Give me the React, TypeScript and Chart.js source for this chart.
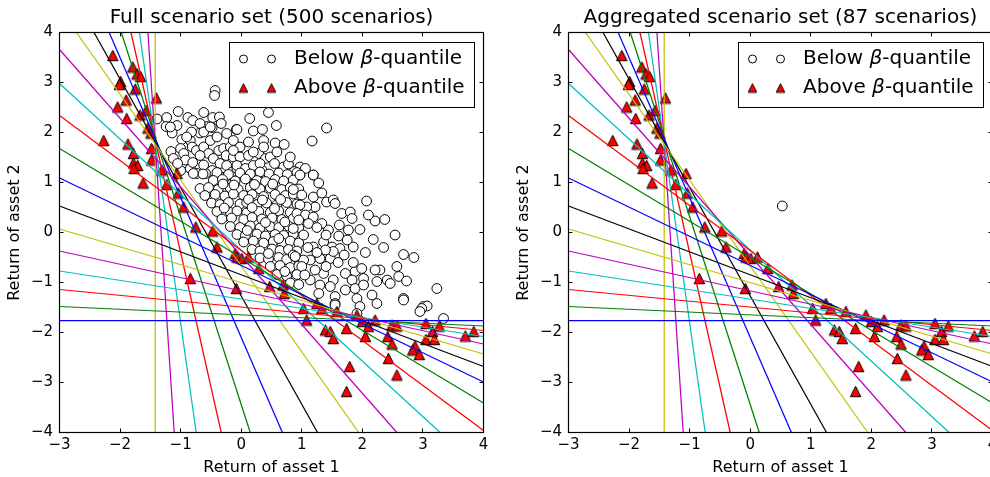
import React, { useEffect, useRef } from 'react';
import { Chart, registerables } from 'chart.js';

Chart.register(...registerables);

const FONT = '"DejaVu Sans", "Liberation Sans", sans-serif';

const xTickValues = [-3, -2, -1, 0, 1, 2, 3, 4];
const yTickValues = [-4, -3, -2, -1, 0, 1, 2, 3, 4];

const panelTitles = ['Full scenario set (500 scenarios)', 'Aggregated scenario set (87 scenarios)'];
const xAxisTitle = 'Return of asset 1';
const yAxisTitle = 'Return of asset 2';
const legendWords = ['Below', 'Above'];

// supporting lines: start / end points where they meet the plot box
const lineStartX = [-3, -3, -3, -3, -3, -3, -3, -3, -3, -3, -3, -3, -2.72, -2.43, -2.18, -1.98, -1.82, -1.68, -1.54, -1.42];
const lineStartY = [-1.76, -1.48, -1.14, -0.77, -0.37, 0.07, 0.53, 1.09, 1.68, 2.34, 2.98, 3.66, 4, 4, 4, 4, 4, 4, 4, 4];
const lineEndX = [4, 4, 4, 4, 4, 4, 4, 4, 4, 4, 3.285, 2.57, 1.94, 1.26, 0.68, 0.149, -0.33, -0.743, -1.106, -1.42];
const lineEndY = [-1.76, -1.87, -1.96, -2.08, -2.23, -2.43, -2.68, -2.99, -3.41, -3.96, -4, -4, -4, -4, -4, -4, -4, -4, -4, -4];
const lineColors = ['#0000ff', '#008000', '#ff0000', '#00bfbf', '#bf00bf', '#bfbf00', '#000000'];

// scenarios above the beta-quantile (same in both panels)
const aboveQuantile = [
  [-2.12, 3.54], [-1.79, 3.31], [-1.72, 3.17], [-1.66, 3.12], [-1.99, 3.02], [-2.01, 2.96], [-1.75, 2.87],
  [-1.40, 2.69], [-1.90, 2.65], [-2.04, 2.51], [-1.57, 2.44], [-1.67, 2.35], [-1.89, 2.28], [-1.54, 2.09],
  [-1.49, 1.99], [-2.27, 1.84], [-1.87, 1.77], [-1.48, 1.68], [-1.78, 1.58], [-1.48, 1.45], [-1.78, 1.39],
  [-1.71, 1.34], [-1.77, 1.28], [-1.31, 1.25], [-1.06, 1.18], [-1.62, 0.99], [-1.23, 0.96], [-1.04, 0.79],
  [-0.95, 0.51], [-0.75, 0.11], [-0.47, 0.03], [-0.40, -0.29], [-0.10, -0.42], [-0.07, -0.49], [0.01, -0.52],
  [0.12, -0.49], [0.29, -0.72], [-0.84, -0.92], [-0.08, -1.12], [0.47, -1.08], [0.71, -1.22], [0.69, -1.05],
  [1.03, -1.52], [1.08, -1.75], [1.39, -1.95], [1.47, -1.98], [1.52, -2.12], [1.74, -1.92], [1.79, -2.68],
  [1.74, -3.18], [2.00, -1.78], [2.05, -2.08], [2.10, -1.88], [2.21, -1.75], [2.42, -2.08], [2.49, -2.23],
  [2.43, -2.52], [2.57, -2.85], [2.49, -1.85], [2.57, -1.87], [2.87, -2.27], [2.83, -2.35], [2.94, -2.44],
  [3.05, -1.82], [3.16, -1.98], [3.05, -2.14], [3.19, -2.14], [3.27, -1.87], [3.70, -2.07], [3.84, -1.98],
  [1.58, -1.58], [1.33, -1.52], [1.25, -1.42], [1.91, -1.65],
];

// scenarios below the beta-quantile, full set
const belowFull = [
  [-0.43, 2.84], [-0.44, 2.74], [-1.04, 2.42], [-1.23, 2.30], [-1.39, 2.27], [-1.24, 2.12], [-1.06, 2.14],
  [-1.14, 1.99], [-1.17, 2.11], [-0.88, 2.30], [-0.80, 2.24], [-0.62, 2.40], [-0.47, 2.30], [-0.36, 2.31],
  [-0.33, 2.18], [-0.08, 2.06], [-0.57, 2.12], [-0.48, 2.10], [-0.68, 1.99], [-0.84, 1.84], [-0.98, 1.86],
  [-1.16, 1.62], [-1.00, 1.68], [-0.95, 1.58], [-0.81, 1.71], [-0.74, 1.64], [-0.62, 1.71], [-0.51, 1.84],
  [-0.40, 1.91], [-0.54, 1.58], [-0.68, 1.54], [-0.37, 1.64], [-0.29, 1.68], [-0.18, 1.71], [-0.25, 1.54],
  [-0.13, 1.51], [-0.07, 1.64], [-0.46, 1.48], [-0.35, 1.38], [-0.24, 1.34], [-0.48, 1.24], [-0.59, 1.18],
  [-0.73, 1.18], [-0.84, 1.28], [-1.00, 1.24], [-1.12, 1.48], [-0.15, 1.21], [-0.07, 1.28], [-0.26, 1.11],
  [-0.37, 1.14], [-0.68, 2.18], [-0.62, 2.01], [-0.51, 2.11], [-0.82, 2.01], [-0.90, 1.91], [-0.24, 1.98],
  [-0.13, 1.84], [-0.02, 1.71], [-0.92, 1.45], [-0.80, 1.40], [-0.62, 1.35], [-1.05, 1.38],
  [0.45, 2.40], [0.14, 2.28], [-0.07, 2.06], [0.20, 2.03], [0.35, 2.06], [0.58, 2.14], [0.37, 1.84],
  [0.56, 1.79], [0.71, 1.76], [1.17, 1.83], [1.41, 2.09], [-0.13, 1.64], [-0.02, 1.51], [0.12, 1.54],
  [0.29, 1.58], [0.40, 1.48], [-0.07, 1.34], [0.07, 1.28], [0.20, 1.34], [0.34, 1.25], [0.70, 1.31],
  [0.78, 1.37], [0.97, 1.31], [1.06, 1.28], [1.19, 1.15], [0.15, 1.15], [0.42, 1.11], [0.59, 1.11],
  [0.73, 1.11], [0.97, 1.15], [0.20, 1.61], [0.37, 1.71], [0.48, 1.51], [0.31, 1.38], [0.59, 1.61],
  [0.81, 1.51], [0.55, 1.38], [0.88, 1.22], [0.12, 1.81],
  [-0.79, 1.18], [-0.63, 1.17], [-0.40, 1.20], [-0.21, 1.16], [-0.02, 1.19], [0.15, 1.17], [0.31, 1.21],
  [0.46, 1.17], [0.62, 1.19], [0.76, 1.16], [0.92, 1.20],
  [-0.46, 1.04], [-0.31, 1.06], [-0.10, 1.03], [0.07, 1.07], [0.26, 1.04], [0.40, 1.02], [0.56, 1.06],
  [0.70, 1.03], [0.86, 1.05],
  [-0.68, 0.88], [-0.54, 0.90], [-0.38, 0.86], [-0.18, 0.89], [-0.05, 0.86], [0.15, 0.90], [0.31, 0.87],
  [0.48, 0.89], [0.67, 0.86], [0.81, 0.90], [0.95, 0.87],
  [-0.60, 0.74], [-0.43, 0.76], [-0.27, 0.73], [-0.13, 0.77], [0.04, 0.74], [0.18, 0.76], [0.37, 0.72],
  [0.56, 0.76], [0.73, 0.74], [0.86, 0.77],
  [-0.49, 0.59], [-0.35, 0.56], [-0.21, 0.60], [-0.02, 0.57], [0.09, 0.60], [0.26, 0.56], [0.42, 0.59],
  [0.59, 0.56], [0.75, 0.60], [0.92, 0.57],
  [-0.40, 0.42], [-0.18, 0.40], [-0.07, 0.43], [0.09, 0.39], [0.29, 0.42], [0.48, 0.40], [0.62, 0.43],
  [0.81, 0.40],
  [-0.32, 0.27], [-0.16, 0.29], [0.04, 0.26], [0.18, 0.30], [0.34, 0.27], [0.51, 0.29], [0.67, 0.26],
  [0.86, 0.28],
  [-0.18, 0.12], [-0.02, 0.10], [0.15, 0.13], [0.31, 0.09], [0.48, 0.12], [0.62, 0.10], [0.78, 0.13],
  [0.95, 0.10],
  [-0.07, -0.04], [0.07, -0.06], [0.26, -0.03], [0.40, -0.07], [0.56, -0.04], [0.70, -0.06], [0.86, -0.03],
  [0.04, -0.19], [0.20, -0.17], [0.37, -0.21], [0.53, -0.18], [0.67, -0.20], [0.81, -0.17], [0.95, -0.21],
  [0.18, -0.34], [0.31, -0.37], [0.51, -0.33], [0.64, -0.36], [0.78, -0.34], [0.92, -0.37],
  [0.31, -0.51], [0.45, -0.53], [0.62, -0.50], [0.75, -0.54], [0.92, -0.51],
  [0.48, -0.68], [0.64, -0.66], [0.81, -0.70], [0.95, -0.67],
  [0.59, -0.84], [0.75, -0.87], [0.92, -0.84], [0.81, -1.01], [0.95, -1.04],
  [-0.30, 0.97], [-0.12, 0.95], [0.22, 0.96], [0.52, 0.97], [0.12, 0.66], [0.35, 0.65], [0.65, 0.66],
  [-0.28, 0.49], [0.18, 0.50], [0.55, 0.48], [0.40, 0.20], [0.72, 0.21], [0.10, 0.04], [0.62, -0.12],
  [0.45, -0.42], [0.86, -0.45], [0.72, -0.78],
  [0.97, 1.15], [1.19, 1.15], [1.28, 0.99], [0.86, 0.86], [1.00, 0.75], [1.19, 0.71], [1.33, 0.79],
  [1.41, 0.61], [1.52, 0.65], [1.55, 0.58], [1.66, 0.38], [1.80, 0.41], [1.83, 0.28], [2.07, 0.63],
  [2.21, 0.23], [2.37, 0.26], [1.96, 0.06], [1.77, 0.05], [1.61, -0.07], [1.44, 0.05], [1.33, 0.18],
  [1.22, 0.51], [1.08, 0.51], [0.97, 0.55], [0.92, 0.38], [1.06, 0.35], [1.19, 0.31], [0.95, 0.25],
  [1.11, 0.18], [0.86, 0.08], [1.03, -0.05], [1.19, -0.29], [1.36, -0.19], [1.50, -0.29], [1.63, -0.32],
  [1.85, -0.29], [2.18, -0.14], [2.54, -0.05], [2.68, -0.44], [2.85, -0.50], [2.57, -0.68], [2.60, -0.88],
  [2.73, -0.97], [2.29, -0.75], [2.21, -0.75], [2.41, -0.95], [2.24, -0.98], [2.46, -1.02], [2.02, -0.92],
  [1.88, -0.78], [1.99, -0.72], [1.85, -0.60], [1.72, -0.82], [1.83, -0.95], [1.52, -0.95], [1.36, -0.82],
  [1.22, -0.75], [1.14, -0.55], [1.30, -0.52], [1.47, -0.52], [1.52, -0.38], [1.39, -0.35], [1.03, -0.55],
  [0.89, -0.48], [1.00, -0.68], [1.14, -0.95], [1.30, -1.05], [1.47, -1.08], [1.72, -1.15], [1.88, -1.12],
  [2.02, -1.05], [1.91, -1.32], [2.16, -1.25], [2.24, -1.42], [1.96, -1.48], [1.55, -1.28], [1.55, -1.42],
  [1.28, -1.22], [3.23, -1.12], [2.68, -1.32], [3.01, -1.48], [3.07, -1.47],
  [1.25, 0.10], [1.40, -0.05], [1.10, -0.30], [1.25, -0.40], [1.60, -0.60], [1.70, -0.45], [1.40, -0.68],
  [1.05, -0.85], [1.62, 0.15], [2.05, -0.40], [2.35, -0.30], [1.75, -0.15], [2.10, 0.35],
  [1.55, -1.45], [2.68, -1.35], [2.98, -1.52], [2.95, -1.58], [3.34, -1.72], [1.91, -1.62],
];

// the aggregated set keeps a single scenario below the quantile
const belowAggregated = [[0.53, 0.53]];

const fmtTick = (v: number) => (v < 0 ? '\u2212' + Math.abs(v) : String(v));

function makeTriangle(size: number): HTMLCanvasElement {
  const c = document.createElement('canvas');
  const s = Math.ceil(size) + 2;
  c.width = s;
  c.height = s;
  const g = c.getContext('2d') as CanvasRenderingContext2D;
  const h = size / 2;
  const cx = s / 2;
  const cy = s / 2;
  g.beginPath();
  g.moveTo(cx, cy - h);
  g.lineTo(cx - h, cy + h);
  g.lineTo(cx + h, cy + h);
  g.closePath();
  g.fillStyle = '#ff0000';
  g.fill();
  g.strokeStyle = '#000000';
  g.lineWidth = 1;
  g.stroke();
  return c;
}

const framePlugin = {
  id: 'mplFrame',
  afterDatasetsDraw(chart: any) {
    const { ctx, chartArea, scales } = chart;
    const { left, right, top, bottom } = chartArea;
    ctx.save();
    ctx.strokeStyle = '#000';
    ctx.lineWidth = 1.2;
    ctx.strokeRect(left, top, right - left, bottom - top);
    ctx.beginPath();
    const len = 4;
    xTickValues.forEach((v) => {
      const p = Math.floor(scales.x.getPixelForValue(v)) + 0.5;
      ctx.moveTo(p, bottom);
      ctx.lineTo(p, bottom - len);
      ctx.moveTo(p, top);
      ctx.lineTo(p, top + len);
    });
    yTickValues.forEach((v) => {
      const p = Math.floor(scales.y.getPixelForValue(v)) + 0.5;
      ctx.moveTo(left, p);
      ctx.lineTo(left + len, p);
      ctx.moveTo(right, p);
      ctx.lineTo(right - len, p);
    });
    ctx.lineWidth = 1;
    ctx.stroke();
    ctx.restore();
  },
};

function makeLegendPlugin(tri: HTMLCanvasElement) {
  return {
    id: 'mplLegend',
    afterDraw(chart: any) {
      const { ctx, chartArea } = chart;
      const normal = `20px ${FONT}`;
      const ital = `italic 20px ${FONT}`;
      ctx.save();
      const widths = legendWords.map((w) => {
        ctx.font = normal;
        let t = ctx.measureText(w + ' ').width + ctx.measureText('-quantile').width;
        ctx.font = ital;
        t += ctx.measureText('\u03b2').width;
        return t;
      });
      const textOffset = 64.5;
      const boxW = textOffset + Math.max(...widths) + 10;
      const boxH = 65;
      const right = Math.round(chartArea.right - 9.5) + 0.5;
      const left = Math.round(right - boxW) + 0.5;
      const top = Math.round(chartArea.top + 9) + 0.5;
      ctx.fillStyle = '#ffffff';
      ctx.fillRect(left, top, right - left, boxH);
      ctx.strokeStyle = '#000000';
      ctx.lineWidth = 1;
      ctx.strokeRect(left, top, right - left, boxH);
      const rows = [top + 16.5, top + 45.5];
      const mx = [left + 14, left + 42];
      mx.forEach((x) => {
        ctx.beginPath();
        ctx.arc(x, rows[0], 4, 0, Math.PI * 2);
        ctx.fillStyle = '#ffffff';
        ctx.fill();
        ctx.strokeStyle = '#000';
        ctx.stroke();
      });
      mx.forEach((x) => {
        ctx.drawImage(tri, x - tri.width / 2, rows[1] - tri.height / 2);
      });
      ctx.fillStyle = '#000';
      ctx.textBaseline = 'middle';
      ctx.textAlign = 'left';
      legendWords.forEach((w, i) => {
        let x = left + textOffset;
        ctx.font = normal;
        ctx.fillText(w + ' ', x, rows[i]);
        x += ctx.measureText(w + ' ').width;
        ctx.font = ital;
        ctx.fillText('\u03b2', x, rows[i]);
        x += ctx.measureText('\u03b2').width;
        ctx.font = normal;
        ctx.fillText('-quantile', x, rows[i]);
      });
      ctx.restore();
    },
  };
}

function buildConfig(title: string, below: number[][]): any {
  const triBig = makeTriangle(10.5);
  const triSmall = makeTriangle(8.5);
  const lineSets = lineStartX.map((x0, i) => ({
    data: [
      { x: x0, y: lineStartY[i] },
      { x: lineEndX[i], y: lineEndY[i] },
    ],
    showLine: true,
    borderColor: lineColors[i % lineColors.length],
    borderWidth: 1.25,
    pointRadius: 0,
    pointHoverRadius: 0,
    fill: false,
    clip: 0,
    order: 0,
  }));
  const datasets = [
    ...lineSets,
    {
      data: aboveQuantile.map(([x, y]) => ({ x, y })),
      pointStyle: triBig,
      pointRadius: 5,
      showLine: false,
      order: 1,
    },
    {
      data: below.map(([x, y]) => ({ x, y })),
      pointStyle: 'circle',
      pointRadius: 4.9,
      pointBackgroundColor: '#ffffff',
      pointBorderColor: '#000000',
      pointBorderWidth: 1,
      showLine: false,
      order: 2,
    },
  ];
  const tickFont = { family: FONT, size: 15 };
  const titleFont = { family: FONT, size: 16 };
  return {
    type: 'scatter',
    data: { datasets },
    options: {
      animation: false,
      responsive: false,
      devicePixelRatio: 1,
      events: [],
      layout: { padding: { left: 0, right: 16.5, top: 0, bottom: 0 } },
      plugins: {
        legend: { display: false },
        tooltip: { enabled: false },
        title: {
          display: true,
          text: title,
          fullSize: false,
          color: '#000',
          font: { family: FONT, size: 20, weight: 'normal' },
          padding: { top: 6, bottom: 2.5 },
        },
      },
      scales: {
        x: {
          type: 'linear',
          min: -3,
          max: 4,
          grid: { display: false, drawTicks: false },
          border: { display: false },
          ticks: { stepSize: 1, autoSkip: false, maxRotation: 0, color: '#000', font: tickFont, padding: 4, callback: (v: number) => fmtTick(v) },
          title: { display: true, text: xAxisTitle, color: '#000', font: titleFont, padding: { top: 0, bottom: 0 } },
          afterFit: (s: any) => {
            s.height = 44.5;
          },
        },
        y: {
          type: 'linear',
          min: -4,
          max: 4,
          grid: { display: false, drawTicks: false },
          border: { display: false },
          ticks: { stepSize: 1, autoSkip: false, color: '#000', font: tickFont, padding: 6.5, callback: (v: number) => fmtTick(v) },
          title: { display: true, text: yAxisTitle, color: '#000', font: titleFont, padding: { top: 5.5, bottom: 0 } },
          afterFit: (s: any) => {
            s.width = 59.5;
          },
        },
      },
    },
    plugins: [framePlugin, makeLegendPlugin(triSmall)],
  };
}

function Panel({ title, below, left }: { title: string; below: number[][]; left: number }) {
  const ref = useRef<HTMLCanvasElement | null>(null);
  useEffect(() => {
    if (!ref.current) return;
    const chart = new Chart(ref.current, buildConfig(title, below));
    return () => chart.destroy();
  }, [title, below]);
  return (
    <canvas
      ref={ref}
      width={500}
      height={477}
      style={{ position: 'absolute', left, top: 0, width: 500, height: 477 }}
    />
  );
}

export default function App() {
  return (
    <div
      style={{
        position: 'fixed',
        left: 0,
        top: 0,
        width: 990,
        height: 477,
        overflow: 'hidden',
        background: '#ffffff',
      }}
    >
      <Panel title={panelTitles[0]} below={belowFull} left={0} />
      <Panel title={panelTitles[1]} below={belowAggregated} left={509} />
    </div>
  );
}
